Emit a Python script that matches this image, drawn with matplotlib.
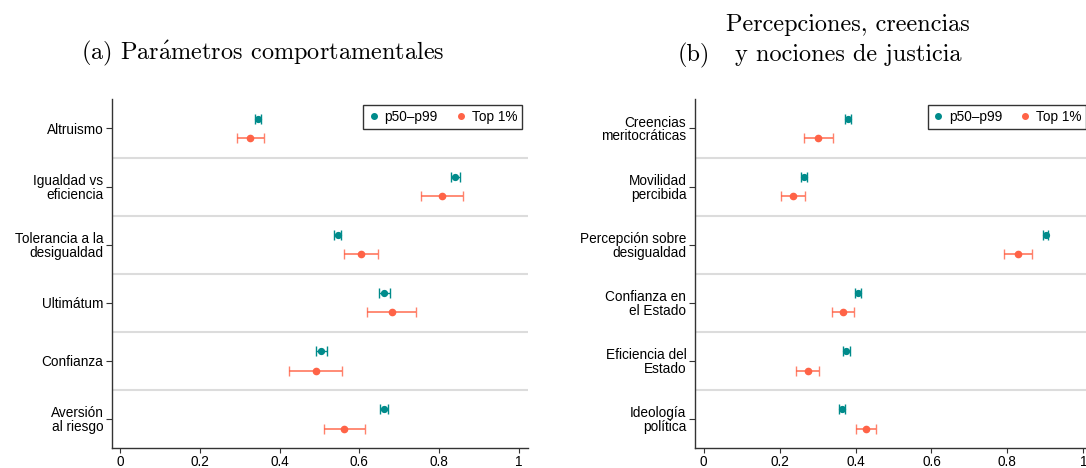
import numpy as np
import matplotlib
matplotlib.use("Agg")
import matplotlib.pyplot as plt
from matplotlib.lines import Line2D

# Panel (a): behavioural parameters
left_labels = ["Altruismo", "Igualdad vs\neficiencia", "Tolerancia a la\ndesigualdad",
               "Ultimátum", "Confianza", "Aversión\nal riesgo"]
left_mid = [0.345, 0.841, 0.546, 0.663, 0.505, 0.662]
left_mid_err = [0.0075, 0.0105, 0.009, 0.013, 0.013, 0.011]
left_top = [0.326, 0.808, 0.603, 0.682, 0.490, 0.562]
left_top_lo = [0.292, 0.756, 0.561, 0.620, 0.424, 0.511]
left_top_hi = [0.361, 0.859, 0.647, 0.742, 0.556, 0.614]

# Panel (b): perceptions, beliefs and notions of justice
right_labels = ["Creencias\nmeritocráticas", "Movilidad\npercibida", "Percepción sobre\ndesigualdad",
                "Confianza en\nel Estado", "Eficiencia del\nEstado", "Ideología\npolítica"]
right_mid = [0.381, 0.264, 0.901, 0.407, 0.376, 0.364]
right_mid_err = [0.008, 0.008, 0.007, 0.008, 0.009, 0.008]
right_top = [0.302, 0.236, 0.828, 0.366, 0.274, 0.428]
right_top_lo = [0.265, 0.204, 0.790, 0.337, 0.242, 0.400]
right_top_hi = [0.340, 0.268, 0.866, 0.397, 0.305, 0.454]

x_ticks = [0, 0.2, 0.4, 0.6, 0.8, 1]
x_ticklabels = ["0", "0.2", "0.4", "0.6", "0.8", "1"]
legend_labels = ["p50\u2013p99", "Top 1%"]

TEAL = "#008B8B"
RED = "#FF6347"
SANS = "Liberation Sans"
SERIF = ["cmr10", "DejaVu Serif"]

plt.rcParams["mathtext.fontset"] = "cm"
plt.rcParams["axes.formatter.use_mathtext"] = True

W, H = 1086, 468
fig = plt.figure(figsize=(W / 100, H / 100), dpi=100)


def px_axes(x0, x1, y0, y1):
    # axes placed from pixel edges (origin top-left)
    return fig.add_axes([x0 / W, 1 - y1 / H, (x1 - x0) / W, (y1 - y0) / H])


def panel(ax, labels, mid, mid_err, top, lo, hi, xlim):
    n = len(labels)
    pos = np.arange(n)
    off = 0.167
    top = np.array(top)
    err = [top - np.array(lo), np.array(hi) - top]

    for b in np.arange(n - 1) + 0.5:
        ax.axhline(b, color="#dcdcdc", lw=1.5, zorder=0)

    ax.errorbar(mid, pos - off, xerr=mid_err, fmt="o", color=TEAL, ms=4.2,
                ecolor=TEAL, elinewidth=1.0, capsize=3.5, capthick=1.0, zorder=3)
    eb = ax.errorbar(top, pos + off, xerr=err, fmt="o", color=RED, ms=4.5,
                     ecolor=RED, elinewidth=1.3, capsize=3.8, capthick=1.0, zorder=3)
    for c in eb[1] + eb[2]:
        c.set_alpha(0.8)

    ax.set_ylim(n - 0.5, -0.5)
    ax.set_xlim(*xlim)
    ax.set_yticks(pos)
    ax.set_yticklabels(labels, fontsize=9.8, family=SANS, linespacing=0.95)
    for t in ax.get_yticklabels():
        t.set_multialignment("right")
    ax.set_xticks(x_ticks)
    ax.set_xticklabels(x_ticklabels, fontsize=9.8, family=SANS)
    ax.tick_params(axis="y", length=4.5, width=0.8, pad=1.5, color="#333333")
    ax.tick_params(axis="x", length=3.5, width=0.8, pad=1.2, color="#333333")
    for s in ("top", "right"):
        ax.spines[s].set_visible(False)
    for s in ("left", "bottom"):
        ax.spines[s].set_color("#333333")
        ax.spines[s].set_linewidth(1.0)

    handles = [Line2D([], [], ls="none", marker="o", ms=4, color=TEAL),
               Line2D([], [], ls="none", marker="o", ms=4, color=RED)]
    w = ax.get_position().width * W
    h = ax.get_position().height * H
    leg = ax.legend(handles, legend_labels, loc="upper right", ncol=2,
                    bbox_to_anchor=(1 - 5.7 / w, 1 - 5.6 / h), borderaxespad=0,
                    frameon=True, fancybox=False, prop={"family": SANS, "size": 9.8},
                    handlelength=0.8, handletextpad=0.4, columnspacing=1.3,
                    borderpad=0.35)
    leg.get_frame().set_edgecolor("black")
    leg.get_frame().set_linewidth(1.0)


ax1 = px_axes(111.7, 527.7, 99.4, 448)
panel(ax1, left_labels, left_mid, left_mid_err, left_top, left_top_lo, left_top_hi,
      (-0.0216, 1.0226))

ax2 = px_axes(694.7, 1092, 99.4, 448)
panel(ax2, right_labels, right_mid, right_mid_err, right_top, right_top_lo, right_top_hi,
      (-0.0237, 1.023))

# captions
fs = 17.5
fig.text(263 / W, 1 - 53 / H, r"(a) Par$\mathrm{\acute{a}}$metros comportamentales",
         family=SERIF, fontsize=fs, ha="center", va="center")
fig.text(848 / W, 1 - 25 / H, "Percepciones, creencias", family=SERIF,
         fontsize=fs, ha="center", va="center")
fig.text(848 / W, 1 - 55 / H, "y nociones de justicia", family=SERIF,
         fontsize=fs, ha="center", va="center")
fig.text(710 / W, 1 - 55 / H, "(b)", family=SERIF,
         fontsize=fs, ha="right", va="center")

fig.savefig("out.png", dpi=100)
